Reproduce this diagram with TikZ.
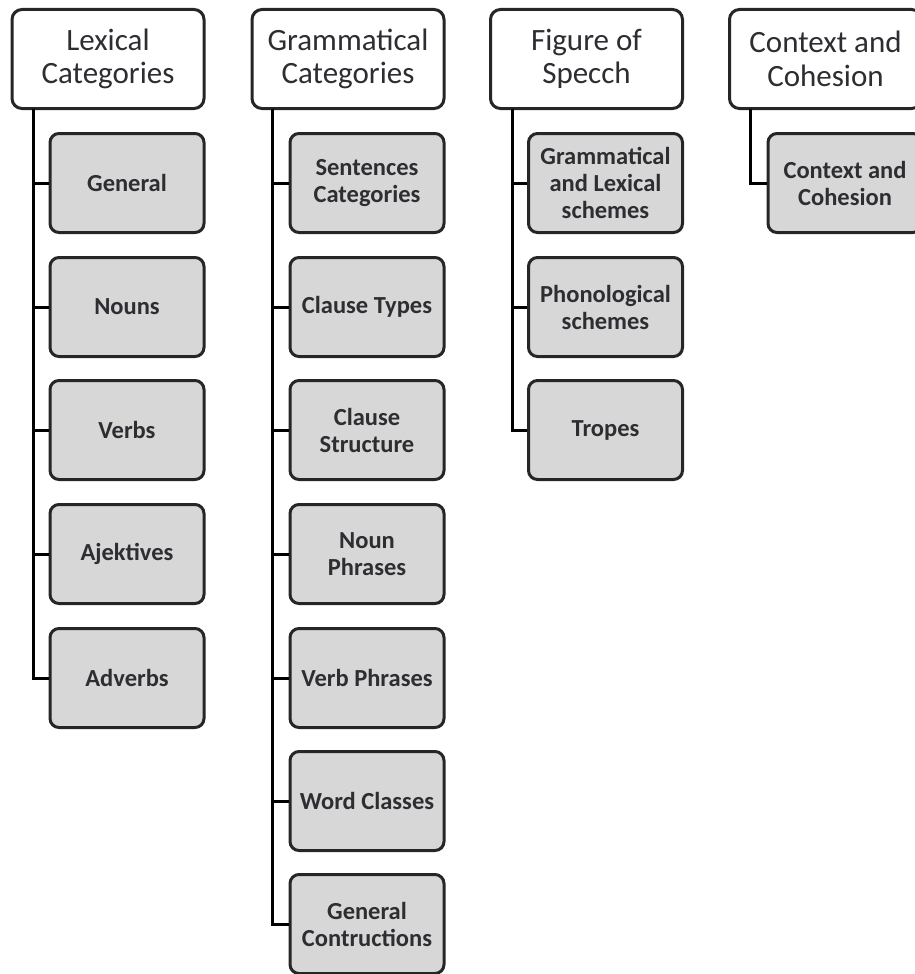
\documentclass[tikz,border=0pt]{standalone}
\usepackage{fontspec}
\setmainfont{Carlito}
\definecolor{boxgray}{RGB}{215,215,215}
\definecolor{txt}{RGB}{45,45,50}
\begin{document}
\begin{tikzpicture}[x=1pt,y=-1pt,
  head/.style={draw=black!85, line width=3pt, rounded corners=10pt, fill=white,
    minimum width=192pt, minimum height=99pt, align=center, inner sep=0pt,
    text=txt, font=\fontsize{31}{33.5}\selectfont},
  leaf/.style={draw=black!85, line width=3pt, rounded corners=9pt, fill=boxgray,
    minimum width=154pt, minimum height=99pt, align=center, inner sep=0pt,
    text=txt, font=\fontsize{24.5}{27}\selectfont\bfseries},
  link/.style={draw=black, line width=3pt}]
\useasboundingbox (0,0) rectangle (915,974);
% headers
\node[head] (h1) at (108,59) {Lexical\\Categories};
\node[head] (h2) at (348,59) {Grammatical\\Categories};
\node[head] (h3) at (586.5,59) {Figure of\\Specch};
\node[head] (h4) at (825.5,59) {Context and\\Cohesion};
% trunk tops
\coordinate (t1) at (33,108.5);
\coordinate (t2) at (272,108.5);
\coordinate (t3) at (512,108.5);
\coordinate (t4) at (750,108.5);
% Lexical children
\node[leaf] (l1) at (127,183) {General};
\node[leaf] (l2) at (127,307) {Nouns};
\node[leaf] (l3) at (127,430) {Verbs};
\node[leaf] (l4) at (127,554) {Ajektives};
\node[leaf] (l5) at (127,678) {Adverbs};
% Grammatical children
\node[leaf] (g1) at (367,183) {Sentences\\Categories};
\node[leaf] (g2) at (367,307) {Clause Types};
\node[leaf] (g3) at (367,430) {Clause\\Structure};
\node[leaf] (g4) at (367,554) {Noun\\Phrases};
\node[leaf] (g5) at (367,678) {Verb Phrases};
\node[leaf] (g6) at (367,801) {Word Classes};
\node[leaf] (g7) at (367,924) {General\\Contructions};
% Figure children
\node[leaf] (f1) at (605.5,183) {Grammatical\\and Lexical\\schemes};
\node[leaf] (f2) at (605.5,307) {Phonological\\schemes};
\node[leaf] (f3) at (605.5,430) {Tropes};
% Context child
\node[leaf] (c1) at (845,183) {Context and\\Cohesion};
% connectors
\foreach \n in {l1,l2,l3,l4,l5} \draw[link] (t1) |- (\n.west);
\foreach \n in {g1,g2,g3,g4,g5,g6,g7} \draw[link] (t2) |- (\n.west);
\foreach \n in {f1,f2,f3} \draw[link] (t3) |- (\n.west);
\draw[link] (t4) |- (c1.west);
\end{tikzpicture}
\end{document}
